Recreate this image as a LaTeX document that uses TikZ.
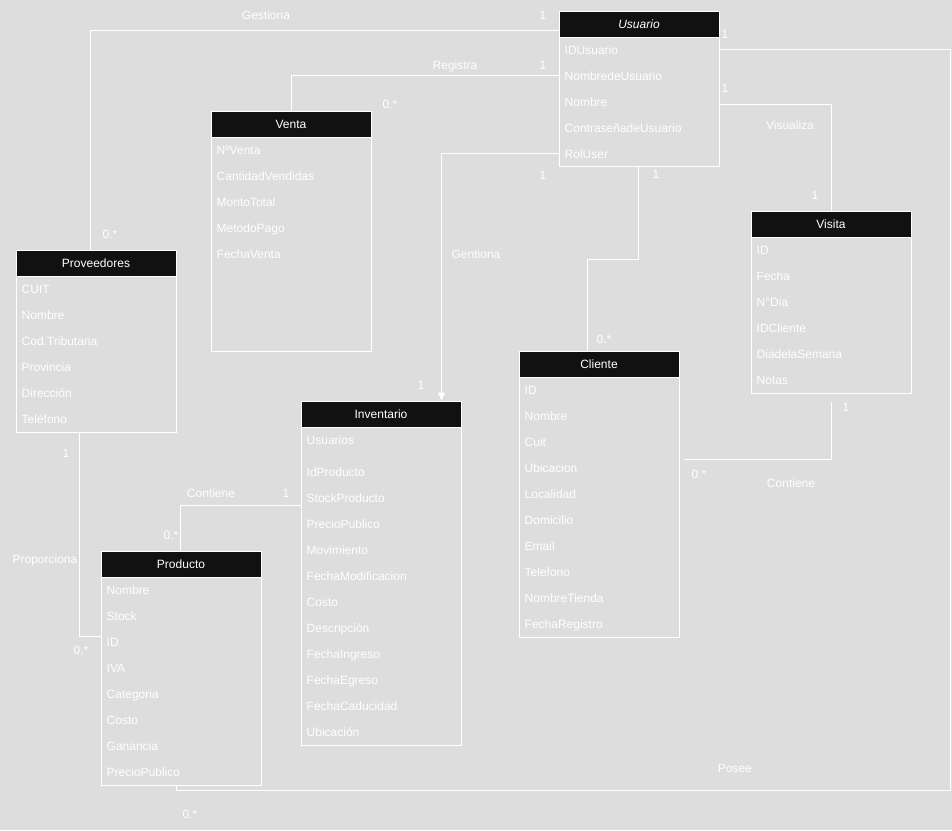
\documentclass[tikz,border=0pt]{standalone}
\usepackage{fontspec}
\setmainfont{Liberation Sans}
\usetikzlibrary{arrows.meta,calc}
\definecolor{canvas}{RGB}{221,221,221}
\definecolor{barblack}{RGB}{17,17,17}
\begin{document}
\begin{tikzpicture}[x=1pt,y=-1pt,
  every node/.style={font=\fontsize{12}{14}\selectfont, text=white},
  entity/.style={draw=white, line width=1pt, anchor=north west, inner sep=0pt, minimum width=160pt},
  titlebar/.style={fill=barblack, draw=white, line width=1pt, anchor=north west,
    minimum width=160pt, minimum height=26pt, inner sep=0pt, text height=8.6pt, text depth=0pt},
  attr/.style={anchor=base west, inner sep=0pt},
  tag/.style={anchor=base, inner sep=0pt},
  conn/.style={draw=white, line width=1pt},
]
\useasboundingbox (0,0) rectangle (952,830);
\fill[canvas] (0,0) rectangle (952,830);

% ---------- entities ----------
\node[entity, minimum height=155.5pt] (usuario) at (558.5,10.5) {};
\node[titlebar] (usuario-h) at (usuario.north west) {\itshape Usuario};
\foreach \t [count=\i] in {IDUsuario,NombredeUsuario,Nombre,ContraseñadeUsuario,RolUser}
  \node[attr] (usuario-a\i) at ($(usuario.north west)+(6,18+26*\i)$) {\t};

\node[entity, minimum height=240pt] (venta) at (210.5,110.5) {};
\node[titlebar] (venta-h) at (venta.north west) {Venta};
\foreach \t [count=\i] in {NºVenta,CantidadVendidas,MontoTotal,MetodoPago,FechaVenta}
  \node[attr] (venta-a\i) at ($(venta.north west)+(6,18+26*\i)$) {\t};

\node[entity, minimum height=182pt] (proveedores) at (15.5,249.5) {};
\node[titlebar] (proveedores-h) at (proveedores.north west) {Proveedores};
\foreach \t [count=\i] in {CUIT,Nombre,Cod.Tributaria,Provincia,Dirección,Teléfono}
  \node[attr] (proveedores-a\i) at ($(proveedores.north west)+(6,18+26*\i)$) {\t};

\node[entity, minimum height=182pt] (visita) at (750.5,210.5) {};
\node[titlebar] (visita-h) at (visita.north west) {Visita};
\foreach \t [count=\i] in {ID,Fecha,N°Dia,IDCliente,DiadelaSemana,Notas}
  \node[attr] (visita-a\i) at ($(visita.north west)+(6,18+26*\i)$) {\t};

\node[entity, minimum height=286pt] (cliente) at (518.5,350.5) {};
\node[titlebar] (cliente-h) at (cliente.north west) {Cliente};
\foreach \t [count=\i] in {ID,Nombre,Cuit,Ubicacion,Localidad,Domicilio,Email,Telefono,NombreTienda,FechaRegistro}
  \node[attr] (cliente-a\i) at ($(cliente.north west)+(6,18+26*\i)$) {\t};

\node[entity, minimum height=344pt] (inventario) at (300.5,400.5) {};
\node[titlebar] (inventario-h) at (inventario.north west) {Inventario};
\node[attr] (inventario-a0) at ($(inventario.north west)+(6,44)$) {Usuarios};
\foreach \t [count=\i] in {IdProducto,StockProducto,PrecioPublico,Movimiento,FechaModificacion,Costo,Descripción,FechaIngreso,FechaEgreso,FechaCaducidad,Ubicación}
  \node[attr] (inventario-a\i) at ($(inventario.north west)+(6,50+26*\i)$) {\t};

\node[entity, minimum height=234pt] (producto) at (100.5,550.5) {};
\node[titlebar] (producto-h) at (producto.north west) {Producto};
\foreach \t [count=\i] in {Nombre,Stock,ID,IVA,Categoria,Costo,Ganancia,PrecioPublico}
  \node[attr] (producto-a\i) at ($(producto.north west)+(6,18+26*\i)$) {\t};

% ---------- relationships ----------
% Usuario - Proveedores
\draw[conn] (usuario.west |- 0,30.5) -| (proveedores.north -| 90.5,0);
% Usuario - Venta
\draw[conn] (usuario.west |- 0,75.5) -| (venta.north);
% Usuario - Inventario
\draw[conn, -{Triangle[width=7pt,length=8pt]}] (usuario.west |- 0,153.5) -| ($(inventario.north east)+(-20,0)$);
% Usuario - Cliente
\draw[conn] (usuario.south -| 638.5,0) -- ++(0,92) -| (cliente.north -| 587.5,0);
% Usuario - Visita
\draw[conn] (usuario.east |- 0,104.5) -| (visita.north);
% Usuario - Producto
\coordinate (posee-turn) at (950.5,790.5);
\draw[conn] (usuario.east |- 0,49.5) -| (posee-turn) -| (producto.south -| 176.5,0);
% Visita - Cliente
\draw[conn] ($(visita.south)+(0,8)$) |- ($(cliente.east |- 0,459.5)+(4,0)$);
% Proveedores - Producto
\draw[conn] (proveedores.south -| 79.5,0) |- (producto.west |- 0,636.5);
% Producto - Inventario
\draw[conn] (producto.north -| 180.5,0) |- (inventario.west |- 0,505.5);

% ---------- labels ----------
\node[tag] (l-gest) at (266,19) {Gestiona};
\node[tag] (m-gest-1) at (543,19) {1};
\node[tag] (m-gest-n) at (110,238) {0.*};
\node[tag] (l-reg) at (455,69) {Registra};
\node[tag] (m-reg-1) at (543,69) {1};
\node[tag] (m-reg-n) at (390,108) {0.*};
\node[tag] (m-inv-u) at (543,179) {1};
\node[tag] (l-inv) at (476,258) {Gentiona};
\node[tag] (m-inv-1) at (421,389) {1};
\node[tag] (m-cli-1) at (656,178) {1};
\node[tag] (m-cli-n) at (604,343) {0.*};
\node[tag] (m-pos-1) at (725,38) {1};
\node[tag] (m-vis-u) at (725,92) {1};
\node[tag] (l-vis) at (790,129) {Visualiza};
\node[tag] (m-vis-1) at (815,199) {1};
\node[tag] (m-con-1) at (846,411) {1};
\node[tag] (m-con-n) at (699,478) {0.*};
\node[tag] (l-con) at (791,487) {Contiene};
\node[tag] (m-pro-1) at (66,457) {1};
\node[tag] (l-pro) at (45,563) {Proporciona};
\node[tag] (m-pro-n) at (81,654) {0.*};
\node[tag] (l-cont) at (211,497) {Contiene};
\node[tag] (m-cont-1) at (286,497) {1};
\node[tag] (m-cont-n) at (171,539) {0.*};
\node[tag] (l-pos) at (735,772) {Posee};
\node[tag] (m-pos-n) at (190,818) {0.*};
\end{tikzpicture}
\end{document}
